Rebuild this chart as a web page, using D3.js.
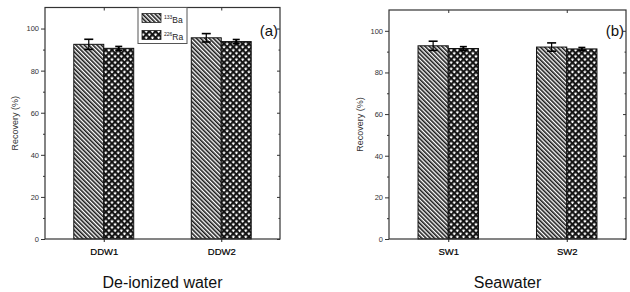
<!DOCTYPE html>
<html><head><meta charset="utf-8">
<script src="https://cdn.jsdelivr.net/npm/d3@7"></script>
<style>body{margin:0;background:#fff}svg{display:block}</style>
</head><body>
<svg id="c" width="630" height="292"></svg>
<script>
const seriesNames = ["133Ba", "226Ra"];
const catsA = ["DDW1", "DDW2"];
const baA = [92.5, 95.6];
const raA = [90.6, 93.8];
const baErrA = [2.4, 2.0];
const raErrA = [0.9, 1.0];
const catsB = ["SW1", "SW2"];
const baB = [92.8, 92.2];
const raB = [91.5, 91.3];
const baErrB = [2.2, 2.0];
const raErrB = [0.9, 0.7];
const yTicks = [0, 20, 40, 60, 80, 100];
const yMinor = [10, 30, 50, 70, 90];
const titles = ["De-ionized water", "Seawater"];
const tags = ["(a)", "(b)"];

const svg = d3.select("#c");
const defs = svg.append("defs");
const p1 = defs.append("pattern").attr("id","hatch").attr("patternUnits","userSpaceOnUse")
  .attr("width",3).attr("height",3).attr("patternTransform","rotate(-45)");
p1.append("rect").attr("width",3).attr("height",3).attr("fill","#fff");
p1.append("rect").attr("x",0).attr("y",0).attr("width",1.6).attr("height",3).attr("fill","#1a1a1a");
const p2 = defs.append("pattern").attr("id","cross").attr("patternUnits","userSpaceOnUse")
  .attr("width",4.4).attr("height",4.4).attr("patternTransform","rotate(45)");
p2.append("rect").attr("width",4.4).attr("height",4.4).attr("fill","#111");
p2.append("rect").attr("x",1.3).attr("y",1.3).attr("width",2.3).attr("height",2.3).attr("fill","#fff");
const fills = ["url(#hatch)", "url(#cross)"];
const FONT = "Liberation Sans, Arial, sans-serif";

const panels = [
  {cats: catsA, vals:[baA, raA], errs:[baErrA, raErrA], x0:45, x1:280, top:7.5, bottom:239, ylabX:18, legend:true},
  {cats: catsB, vals:[baB, raB], errs:[baErrB, raErrB], x0:389, x1:626, top:10, bottom:239, ylabX:363, legend:false}
];

panels.forEach((P, pi) => {
  const g = svg.append("g");
  const y = d3.scaleLinear().domain([0, 110]).range([P.bottom, P.top]);
  const x = d3.scaleBand().domain(P.cats).range([P.x0, P.x1]).paddingInner(0.49).paddingOuter(0.245);
  const xs = d3.scaleBand().domain(seriesNames).range([0, x.bandwidth()]);

  P.cats.forEach((c, ci) => {
    seriesNames.forEach((s, si) => {
      const v = P.vals[si][ci], e = P.errs[si][ci];
      const bx = x(c) + xs(s);
      g.append("rect").attr("x", bx).attr("y", y(v)).attr("width", xs.bandwidth())
        .attr("height", y(0) - y(v)).attr("fill", fills[si]).attr("stroke", "#111").attr("stroke-width", 1);
      const cx = bx + xs.bandwidth()/2;
      const cw = si === 0 ? 4.5 : 3.5;
      g.append("line").attr("x1", cx).attr("x2", cx).attr("y1", y(v - e)).attr("y2", y(v + e))
        .attr("stroke", "#000").attr("stroke-width", si === 0 ? 1.2 : 2);
      [v - e, v + e].forEach(t => g.append("line").attr("x1", cx - cw).attr("x2", cx + cw)
        .attr("y1", y(t)).attr("y2", y(t)).attr("stroke", "#000").attr("stroke-width", 1.6));
    });
  });

  g.append("rect").attr("x", P.x0).attr("y", P.top).attr("width", P.x1 - P.x0).attr("height", P.bottom - P.top)
    .attr("fill", "none").attr("stroke", "#333").attr("stroke-width", 1.2);

  const ax = g.append("g").attr("transform", `translate(${P.x0},0)`)
    .call(d3.axisLeft(y).tickValues(yTicks).tickSize(4).tickPadding(2));
  ax.select(".domain").remove();
  ax.selectAll("line").attr("stroke", "#333");
  ax.selectAll("text").attr("font-family", FONT).attr("font-size", 7.5).attr("fill", "#333");
  const axm = g.append("g").attr("transform", `translate(${P.x0},0)`)
    .call(d3.axisLeft(y).tickValues(yMinor).tickSize(2).tickFormat(""));
  axm.select(".domain").remove(); axm.selectAll("line").attr("stroke", "#333");
  const ar = g.append("g").attr("transform", `translate(${P.x1},0)`)
    .call(d3.axisLeft(y).tickValues(yTicks).tickSize(3).tickFormat(""));
  ar.select(".domain").remove(); ar.selectAll("line").attr("stroke", "#333");
  const arm = g.append("g").attr("transform", `translate(${P.x1},0)`)
    .call(d3.axisLeft(y).tickValues(yMinor).tickSize(1.5).tickFormat(""));
  arm.select(".domain").remove(); arm.selectAll("line").attr("stroke", "#333");

  const xc = d3.scalePoint().domain(P.cats).range([P.x0, P.x1]).padding(0.5);
  const bxa = g.append("g").attr("transform", `translate(0,${P.bottom})`)
    .call(d3.axisBottom(xc).tickSize(3).tickPadding(6));
  bxa.select(".domain").remove();
  bxa.selectAll("line").attr("stroke", "#222");
  bxa.selectAll("text").attr("font-family", FONT).attr("font-size", 9.5).attr("fill", "#000")
    .attr("stroke", "#000").attr("stroke-width", 0.2);
  const tx = g.append("g").attr("transform", `translate(0,${P.top})`)
    .call(d3.axisBottom(xc).tickSize(3).tickFormat(""));
  tx.select(".domain").remove(); tx.selectAll("line").attr("stroke", "#333");

  g.append("text").attr("transform", `translate(${P.ylabX},${(P.top + P.bottom)/2}) rotate(-90)`)
    .attr("text-anchor", "middle").attr("font-family", FONT)
    .attr("font-size", 9).attr("fill", "#333").text("Recovery (%)");

  g.append("text").attr("x", P.x1 - 2).attr("y", 36).attr("text-anchor", "end")
    .attr("font-family", FONT).attr("font-size", 15).attr("fill", "#111").text(tags[pi]);

  g.append("text").attr("x", (P.x0 + P.x1)/2).attr("y", 288).attr("text-anchor", "middle")
    .attr("font-family", FONT).attr("font-size", 16)
    .attr("fill", "#111").text(titles[pi]);

  if (P.legend) {
    const lg = g.append("g");
    lg.append("rect").attr("x", 138).attr("y", P.top).attr("width", 49).attr("height", 36)
      .attr("fill", "#fff").attr("stroke", "#555").attr("stroke-width", 1);
    seriesNames.forEach((s, si) => {
      const yy = P.top + 6 + si * 17;
      lg.append("rect").attr("x", 142).attr("y", yy).attr("width", 19).attr("height", 9)
        .attr("fill", fills[si]).attr("stroke", "#222").attr("stroke-width", 0.8);
      const t = lg.append("text").attr("x", 164).attr("y", yy + 9)
        .attr("font-family", FONT).attr("font-size", 8.5).attr("fill", "#222");
      const m = s.match(/^(\d+)(.*)$/);
      t.append("tspan").attr("font-size", 5).attr("dy", -4).text(m[1]);
      t.append("tspan").attr("dy", 4).text(m[2]);
    });
  }
});
</script>
</body></html>
